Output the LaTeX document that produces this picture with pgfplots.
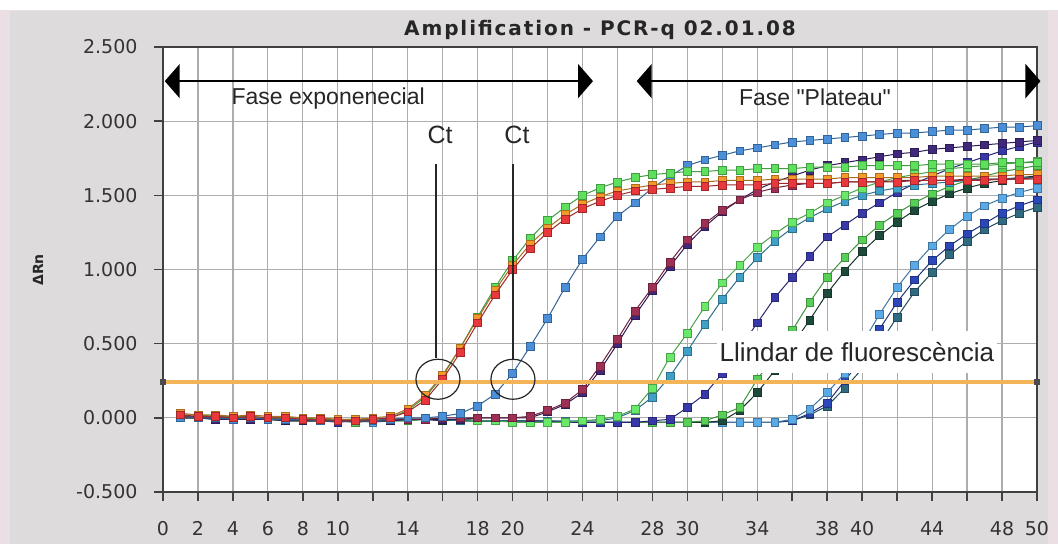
\documentclass[border=0pt]{standalone}
\usepackage{fontspec}
\setmainfont{Liberation Sans}
\newfontfamily\plainsans{Liberation Sans}
\newfontfamily\dejavu{DejaVu Sans}
\newfontfamily\titlefont{DejaVu Sans}[LetterSpace=9.5]
\usepackage{pgfplots}
\pgfplotsset{compat=1.18}
\usepackage{pgfplotstable}
\usetikzlibrary{arrows.meta}

\definecolor{pinkbg}{HTML}{EADFE5}
\definecolor{greybg}{HTML}{DDDBDC}
\definecolor{thr}{HTML}{F2B456}
\definecolor{cA}{HTML}{E8383C}
\definecolor{cB}{HTML}{F39A2A}
\definecolor{cC}{HTML}{5EE05E}
\definecolor{cD}{HTML}{4A8FD8}
\definecolor{cE}{HTML}{9E2F55}
\definecolor{cF}{HTML}{40287A}
\definecolor{cG}{HTML}{6AE86A}
\definecolor{cH}{HTML}{3FA0C8}
\definecolor{cI}{HTML}{3838A8}
\definecolor{cJ}{HTML}{58D058}
\definecolor{cK}{HTML}{1E4A3C}
\definecolor{cL}{HTML}{5AAAE8}
\definecolor{cM}{HTML}{2C48B8}
\definecolor{cN}{HTML}{2F6A80}

\pgfplotstableread{
c A B C D E F G H I J K L M N
1 .02 .03 .02 .00 .01 .00 .00 .01 .00 .01 .00 .01 .00 .00
2 .01 .02 .02 .00 .00 .00 .00 .00 .01 .00 .00 .00 .01 .00
3 .01 .02 .01 .00 .00 -.01 -.01 .00 -.01 .00 -.01 .00 -.01 .00
4 .00 .01 .01 -.01 .00 -.01 -.01 -.01 -.01 -.01 .00 -.01 -.01 .00
5 .01 .02 .01 .00 .00 -.01 .00 -.01 .00 -.01 -.01 .00 .00 -.01
6 .00 .01 .00 -.01 -.01 -.01 -.01 .00 -.01 -.01 -.01 -.01 -.01 -.01
7 .00 .01 .00 -.01 -.01 -.02 -.01 -.01 -.01 -.02 -.01 -.01 -.02 -.01
8 -.01 .00 .00 -.01 -.01 -.02 -.02 -.01 -.02 -.02 -.01 -.02 -.02 -.01
9 -.01 .00 -.01 -.02 -.02 -.02 -.02 -.02 -.02 -.02 -.02 -.02 -.02 -.02
10 -.02 -.01 -.01 -.02 -.02 -.02 -.02 -.02 -.03 -.02 -.02 -.02 -.02 -.02
11 -.02 -.01 -.01 -.02 -.02 -.02 -.02 -.02 -.02 -.03 -.02 -.02 -.03 -.02
12 -.01 .00 -.01 -.02 -.02 -.02 -.02 -.02 -.02 -.02 -.02 -.03 -.02 -.02
13 .00 .01 .00 -.01 -.01 -.02 -.01 -.01 -.02 -.02 -.01 -.02 -.02 -.01
14 .04 .06 .05 .00 -.01 -.01 -.01 -.01 -.01 -.02 -.01 -.02 -.01 -.01
15 .12 .15 .14 .00 -.01 -.01 -.01 -.01 -.01 -.01 -.01 -.01 -.01 -.01
16 .26 .29 .28 .01 .00 -.01 -.01 -.01 -.01 -.01 -.02 -.01 -.02 -.01
17 .44 .47 .47 .03 .00 -.01 -.01 -.02 -.01 -.02 -.01 -.02 -.01 -.02
18 .64 .67 .68 .08 .00 .00 -.02 -.02 -.02 -.02 -.02 -.02 -.02 -.02
19 .83 .86 .88 .16 .00 .00 -.02 -.02 -.02 -.02 -.02 -.02 -.02 -.02
20 1.00 1.03 1.06 .30 .00 .00 -.03 -.02 -.02 -.02 -.02 -.02 -.02 -.02
21 1.14 1.17 1.21 .48 .01 .00 -.03 -.02 -.02 -.03 -.02 -.02 -.03 -.02
22 1.25 1.28 1.33 .67 .05 .04 -.03 -.02 -.02 -.03 -.02 -.03 -.03 -.02
23 1.34 1.37 1.42 .88 .10 .09 -.03 -.02 -.03 -.03 -.03 -.03 -.03 -.03
24 1.41 1.44 1.50 1.07 .19 .17 -.02 -.02 -.03 -.03 -.03 -.03 -.03 -.03
25 1.46 1.49 1.55 1.22 .35 .32 -.01 -.02 -.03 -.03 -.03 -.03 -.03 -.03
26 1.50 1.53 1.59 1.36 .53 .50 .01 .00 -.03 -.03 -.03 -.03 -.03 -.03
27 1.53 1.55 1.62 1.45 .72 .69 .06 .05 -.03 -.03 -.03 -.03 -.03 -.03
28 1.54 1.57 1.64 1.55 .88 .86 .20 .14 -.02 -.03 -.03 -.03 -.03 -.03
29 1.55 1.58 1.65 1.63 1.05 1.02 .41 .28 -.01 -.03 -.03 -.03 -.03 -.03
30 1.56 1.59 1.66 1.70 1.20 1.17 .57 .45 .07 -.03 -.03 -.03 -.03 -.03
31 1.56 1.59 1.66 1.74 1.31 1.29 .75 .63 .16 -.02 -.03 -.03 -.03 -.03
32 1.57 1.60 1.67 1.77 1.40 1.39 .91 .80 .30 .02 -.02 -.03 -.03 -.03
33 1.57 1.60 1.67 1.80 1.47 1.47 1.03 .95 .47 .07 .05 -.03 -.03 -.03
34 1.57 1.60 1.68 1.82 1.52 1.54 1.15 1.08 .64 .26 .17 -.03 -.03 -.03
35 1.58 1.61 1.68 1.84 1.55 1.59 1.24 1.19 .81 .42 .32 -.03 -.03 -.03
36 1.58 1.61 1.68 1.86 1.57 1.63 1.32 1.28 .95 .59 .49 -.01 -.02 -.02
37 1.58 1.61 1.69 1.87 1.58 1.67 1.38 1.35 1.09 .78 .66 .06 .03 .02
38 1.58 1.61 1.69 1.88 1.58 1.70 1.45 1.41 1.22 .95 .84 .17 .10 .08
39 1.59 1.62 1.69 1.89 1.59 1.72 1.50 1.46 1.30 1.08 .99 .30 .25 .20
40 1.59 1.62 1.70 1.90 1.59 1.74 1.55 1.50 1.38 1.20 1.12 .50 .40 .33
41 1.59 1.62 1.70 1.91 1.59 1.76 1.59 1.53 1.45 1.30 1.23 .70 .60 .50
42 1.59 1.62 1.70 1.92 1.60 1.78 1.62 1.55 1.52 1.38 1.32 .88 .78 .68
43 1.60 1.62 1.70 1.92 1.60 1.79 1.64 1.57 1.58 1.45 1.40 1.03 .93 .85
44 1.60 1.63 1.71 1.93 1.60 1.81 1.66 1.58 1.63 1.51 1.46 1.16 1.06 .98
45 1.60 1.63 1.71 1.94 1.60 1.82 1.68 1.59 1.68 1.56 1.51 1.27 1.16 1.10
46 1.60 1.63 1.71 1.94 1.61 1.83 1.69 1.60 1.72 1.60 1.55 1.36 1.24 1.19
47 1.60 1.63 1.71 1.95 1.61 1.84 1.70 1.61 1.76 1.63 1.58 1.43 1.31 1.27
48 1.61 1.63 1.72 1.96 1.61 1.85 1.71 1.61 1.80 1.66 1.60 1.48 1.38 1.33
49 1.61 1.64 1.72 1.96 1.61 1.86 1.72 1.62 1.83 1.68 1.62 1.52 1.43 1.38
50 1.61 1.64 1.72 1.97 1.62 1.87 1.73 1.62 1.86 1.70 1.63 1.55 1.47 1.42
}\data

\pgfplotsset{
  pcr/.style={line width=1pt, color=#1!70!black, mark=square*, mark size=3.9pt,
    mark options={fill=#1, draw=#1!70!black, line width=0.6pt}},
}

\begin{document}
\begin{tikzpicture}[x=1pt,y=1pt]
\useasboundingbox (0,0) rectangle (1058,544);
\fill[pinkbg] (0,0) rectangle (1058,544);
\fill[white] (0,534) rectangle (1058,544);
\fill[greybg] (10,0) rectangle (1048,533);
\node[font=\titlefont\bfseries\fontsize{20}{20}\selectfont, text=black!85] at (600,514) {Amplification - PCR-q 02.01.08};
\node[rotate=90, font=\dejavu\bfseries\fontsize{14}{14}\selectfont, text=black!85] at (38,274) {ΔRn};
\begin{axis}[
  at={(163pt,52pt)}, anchor=south west, scale only axis,
  width=874pt, height=445pt,
  xmin=0, xmax=50, ymin=-0.5, ymax=2.5,
  axis background/.style={fill=white},
  xtick={0,2,...,50},
  xticklabels={0,2,4,6,8,10,{},14,{},18,20,{},24,{},28,30,{},34,{},38,40,{},44,{},48,50},
  ytick={-0.5,0,0.5,1,1.5,2,2.5},
  yticklabels={-0.500,0.000,0.500,1.000,1.500,2.000,2.500},
  xtick pos=bottom, ytick pos=left,
  grid=major, major grid style={black!32, line width=1.2pt},
  axis line style={black!75, line width=1.6pt},
  tick style={black!75, line width=1.6pt},
  tick align=outside, major tick length=9pt,
  ticklabel style={font=\dejavu\fontsize{19}{19}\selectfont, text=black!80},
  xticklabel style={yshift=-17pt},
  yticklabel style={xshift=-13pt},
  clip mode=individual,
]
\addplot[pcr=cN] table[x=c,y=N]{\data};
\addplot[pcr=cM] table[x=c,y=M]{\data};
\addplot[pcr=cL] table[x=c,y=L]{\data};
\addplot[pcr=cK] table[x=c,y=K]{\data};
\addplot[pcr=cJ] table[x=c,y=J]{\data};
\addplot[pcr=cI] table[x=c,y=I]{\data};
\addplot[pcr=cH] table[x=c,y=H]{\data};
\addplot[pcr=cG] table[x=c,y=G]{\data};
\addplot[pcr=cF] table[x=c,y=F]{\data};
\addplot[pcr=cE] table[x=c,y=E]{\data};
\addplot[pcr=cD] table[x=c,y=D]{\data};
\addplot[pcr=cC] table[x=c,y=C]{\data};
\addplot[pcr=cB] table[x=c,y=B]{\data};
\addplot[pcr=cA] table[x=c,y=A]{\data};
\addplot[line width=3.5pt, color=thr, mark=square*, mark size=2.5pt,
  mark options={fill=black!70, draw=black!70, line width=0.5pt}] coordinates {(0,0.24) (50,0.24)};

\draw[line width=2pt, {Triangle[length=15pt,width=34pt]}-{Triangle[length=15pt,width=34pt]}]
  (axis cs:0.1,2.27) -- (axis cs:24.6,2.27);
\draw[line width=2pt, {Triangle[length=15pt,width=34pt]}-{Triangle[length=15pt,width=34pt]}]
  (axis cs:27.1,2.27) -- (axis cs:50.2,2.27);
\node[font=\fontsize{23}{23}\selectfont, text=black!85] at (axis cs:9.45,2.15) {Fase exponenecial};
\node[font=\plainsans\fontsize{23}{23}\selectfont, text=black!85] at (axis cs:37.3,2.16) {Fase "Plateau"};
\node[font=\fontsize{25}{25}\selectfont, text=black!85] at (axis cs:15.85,1.91) {Ct};
\node[font=\fontsize{25}{25}\selectfont, text=black!85] at (axis cs:20.25,1.91) {Ct};
\draw[line width=1.5pt, black!85] (axis cs:15.62,1.71) -- (axis cs:15.62,0.40);
\draw[line width=1.5pt, black!85] (axis cs:20.02,1.71) -- (axis cs:20.02,0.39);
\draw[line width=1.2pt, black!85] (axis cs:15.73,0.26) ellipse [x radius=22pt, y radius=20pt];
\draw[line width=1.2pt, black!85] (axis cs:20.02,0.26) ellipse [x radius=22pt, y radius=20pt];
\node[fill=white, inner xsep=3pt, inner ysep=0pt, minimum height=42pt, font=\fontsize{26}{26}\selectfont, text=black!85]
  at (axis cs:39.7,0.445) {Llindar de fluorescència};
\end{axis}
\end{tikzpicture}
\end{document}
